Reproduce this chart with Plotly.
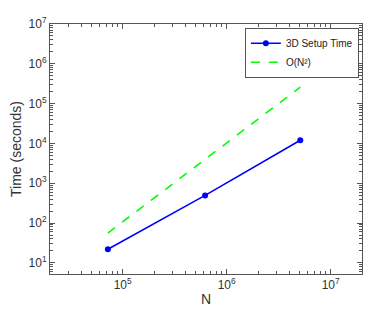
import plotly.graph_objects as go

# Data
n_values = [7.2e4, 6.2e5, 5.1e6]
setup_time = [22, 495, 1.2e4]
ref_n = [7.2e4, 5.1e6]
ref_time = [56, 2.6e5]

x_tick_vals = [1e5, 1e6, 1e7]
x_tick_text = ["10<sup>5</sup>", "10<sup>6</sup>", "10<sup>7</sup>"]
y_tick_vals = [1e1, 1e2, 1e3, 1e4, 1e5, 1e6, 1e7]
y_tick_text = ["10<sup>1</sup>", "10<sup>2</sup>", "10<sup>3</sup>", "10<sup>4</sup>",
               "10<sup>5</sup>", "10<sup>6</sup>", "10<sup>7</sup>"]

x_minor = [m * 10 ** e for e in range(4, 8) for m in range(2, 10)]
y_minor = [m * 10 ** e for e in range(0, 7) for m in range(2, 10)]

x_range = [4.301, 7.301]
y_range = [0.72, 7.0]
axis_color = "#555555"

fig = go.Figure()
fig.add_trace(go.Scatter(
    x=n_values, y=setup_time, mode="lines+markers", name="3D Setup Time",
    line=dict(color="#0000ff", width=1.6), marker=dict(size=6, color="#0000ff")))
fig.add_trace(go.Scatter(
    x=ref_n, y=ref_time, mode="lines", name="O(N²)",
    line=dict(color="#00ff00", width=1.6, dash="dash")))
# empty trace to activate the minor-tick overlay axes
fig.add_trace(go.Scatter(x=[], y=[], xaxis="x2", yaxis="y2", showlegend=False,
                         hoverinfo="skip"))

axis_common = dict(
    type="log", showgrid=False, zeroline=False, showline=True, mirror="ticks",
    linecolor=axis_color, linewidth=1, ticks="inside", ticklen=5, tickcolor=axis_color,
    tickmode="array", automargin=False,
    tickfont=dict(size=12, color="#333333"),
)

fig.update_layout(
    xaxis=dict(range=x_range, tickvals=x_tick_vals, ticktext=x_tick_text,
               title=dict(text="N", font=dict(size=14, color="#333333"), standoff=2),
               **axis_common),
    yaxis=dict(range=y_range, tickvals=y_tick_vals, ticktext=y_tick_text,
               title=dict(text="Time (seconds)", font=dict(size=14, color="#333333"), standoff=4),
               **axis_common),
    xaxis2=dict(type="log", range=x_range, overlaying="x", anchor="y", side="bottom",
                tickmode="array", tickvals=x_minor, ticks="inside", ticklen=3,
                tickcolor=axis_color, showticklabels=False, showgrid=False,
                zeroline=False, showline=True, linecolor=axis_color, mirror="ticks"),
    yaxis2=dict(type="log", range=y_range, overlaying="y", anchor="x", side="left",
                tickmode="array", tickvals=y_minor, ticks="inside", ticklen=3,
                tickcolor=axis_color, showticklabels=False, showgrid=False,
                zeroline=False, showline=True, linecolor=axis_color, mirror="ticks"),
)

# page body has an 8px default margin; size the figure to compensate
fig.update_layout(
    width=366, height=304,
    margin=dict(l=42, r=12, t=16, b=38),
    plot_bgcolor="white", paper_bgcolor="white",
    font=dict(family="Liberation Sans, Arial, sans-serif", color="#333333"),
    legend=dict(x=0.99, y=0.985, xanchor="right", yanchor="top",
                bordercolor=axis_color, borderwidth=1, bgcolor="white",
                font=dict(size=10, color="#222222"), tracegroupgap=0,
                itemwidth=30),
    showlegend=True,
)

fig.write_html("out.html")
